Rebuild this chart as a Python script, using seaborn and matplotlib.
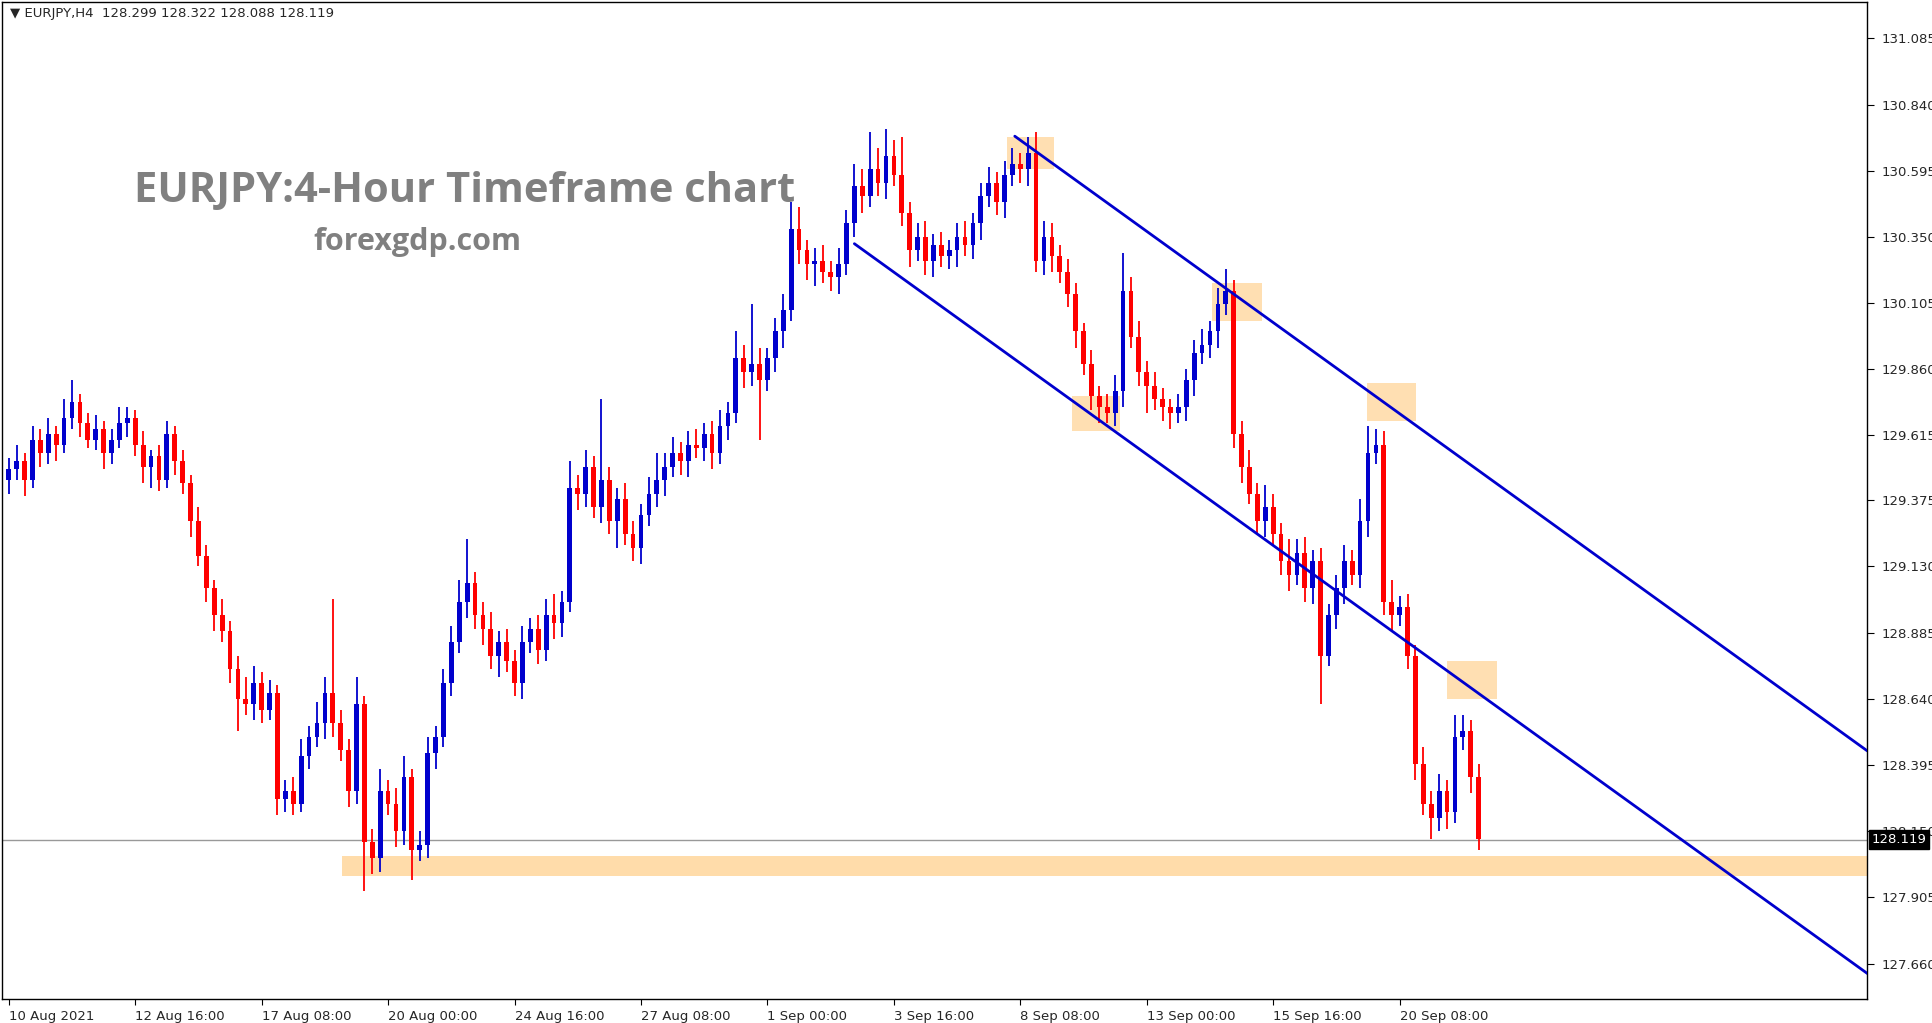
import numpy as np
import seaborn as sns
import matplotlib.pyplot as plt
from matplotlib.patches import Rectangle

# EURJPY H4 closes
closes = [
    129.49, 129.52, 129.45, 129.60, 129.55, 129.62, 129.58, 129.68, 129.74,
    129.66, 129.60, 129.64, 129.55, 129.60, 129.66, 129.68,
    129.58, 129.50, 129.54, 129.45, 129.62, 129.52, 129.44,
    129.30, 129.17, 129.05, 128.95, 128.89, 128.75, 128.64,
    128.62, 128.70, 128.60, 128.66, 128.27,
    128.30, 128.25, 128.43, 128.50, 128.55, 128.66,
    128.55, 128.45, 128.30, 128.62, 128.11,
    128.05, 128.30, 128.25, 128.15, 128.35, 128.08,
    128.10, 128.44, 128.50, 128.70, 128.85, 129.00, 129.07,
    128.95, 128.90, 128.80, 128.85, 128.78, 128.70,
    128.85, 128.90, 128.82, 128.95, 128.92, 129.00,
    129.42, 129.40, 129.50, 129.35, 129.45, 129.30, 129.38,
    129.25, 129.20, 129.32, 129.40, 129.45, 129.50, 129.55,
    129.52, 129.58, 129.57, 129.62, 129.55, 129.65, 129.70,
    129.90, 129.85, 129.88, 129.82, 129.90, 130.00, 130.08, 130.38,
    130.30, 130.25, 130.26, 130.22, 130.20, 130.25, 130.40, 130.54,
    130.50, 130.60, 130.55, 130.65, 130.58, 130.44,
    130.30, 130.35, 130.26, 130.32, 130.28, 130.30, 130.35, 130.32,
    130.40, 130.50, 130.55, 130.48, 130.58, 130.62, 130.60, 130.66,
    130.26, 130.35, 130.28, 130.22, 130.14, 130.00, 129.88, 129.76,
    129.72, 129.70, 129.78, 130.15, 129.98, 129.85, 129.80, 129.75,
    129.72, 129.70, 129.72, 129.82, 129.92, 129.95, 130.00, 130.10,
    130.15, 129.62, 129.50, 129.40, 129.30, 129.35,
    129.25, 129.15, 129.10, 129.18, 129.05, 129.15, 128.80,
    128.95, 129.05, 129.15, 129.10, 129.30, 129.55, 129.58,
    129.00, 128.95, 128.98, 128.80, 128.40, 128.25, 128.20,
    128.30, 128.22, 128.50, 128.52, 128.35, 128.12,
]
first_open = 129.45

# wick lengths in hundredths of a yen
upper_wick = [
    4, 6, 3, 5, 4, 6, 3, 7, 8, 3, 4, 5, 3, 4, 6, 4, 3, 5, 2, 4,
    5, 3, 4, 3, 5, 4, 3, 6, 4, 5, 8, 6, 4, 5, 3, 4, 5, 6, 4, 8,
    6, 35, 5, 4, 10, 3, 5, 8, 4, 6, 8, 3, 5, 6, 4, 5, 6, 8, 16, 4,
    5, 6, 4, 5, 4, 6, 4, 5, 6, 8, 4, 10, 5, 6, 4, 30, 5, 4, 6, 5,
    4, 6, 10, 5, 6, 4, 5, 6, 4, 5, 6, 4, 10, 5, 22, 6, 4, 5, 6, 10,
    8, 4, 5, 6, 4, 6, 5, 8, 6, 14, 8, 10, 6, 14, 4, 5, 6, 4, 5, 4,
    5, 6, 4, 5, 6, 4, 5, 6, 4, 6, 8, 6, 5, 4, 5, 4, 3, 5, 4, 5,
    6, 14, 5, 6, 4, 5, 4, 3, 5, 4, 5, 6, 4, 6, 8, 4, 5, 6, 4, 8,
    5, 4, 8, 5, 6, 4, 5, 4, 5, 6, 4, 8, 10, 6, 5, 8, 4, 5, 4, 6,
    5, 6, 4, 8, 6, 4, 5,
]
lower_wick = [
    5, 4, 6, 3, 5, 4, 6, 3, 4, 5, 3, 4, 6, 4, 3, 5, 4, 6, 8, 4,
    3, 5, 4, 6, 4, 5, 6, 4, 5, 12, 4, 6, 5, 4, 6, 5, 4, 3, 5, 4,
    6, 5, 4, 6, 5, 18, 6, 5, 4, 6, 5, 11, 4, 5, 6, 4, 5, 4, 6, 5,
    6, 5, 8, 4, 5, 6, 4, 5, 4, 6, 5, 4, 6, 5, 4, 6, 5, 10, 4, 5,
    6, 4, 5, 6, 4, 5, 6, 4, 5, 6, 4, 5, 4, 6, 5, 22, 4, 5, 6, 4,
    5, 6, 8, 4, 5, 6, 4, 5, 6, 4, 5, 6, 4, 5, 6, 4, 5, 6, 4, 5,
    6, 4, 5, 6, 4, 5, 6, 4, 5, 6, 4, 5, 6, 4, 5, 6, 4, 5, 6, 4,
    5, 6, 4, 5, 10, 4, 5, 6, 4, 5, 6, 4, 5, 6, 4, 5, 6, 4, 5, 6,
    4, 5, 6, 4, 5, 6, 18, 4, 5, 6, 4, 5, 6, 4, 5, 6, 4, 5, 6, 4,
    8, 5, 6, 4, 5, 6, 4,
]

tick_labels = ['10 Aug 2021', '12 Aug 16:00', '17 Aug 08:00', '20 Aug 00:00',
               '24 Aug 16:00', '27 Aug 08:00', '1 Sep 00:00', '3 Sep 16:00',
               '8 Sep 08:00', '13 Sep 00:00', '15 Sep 16:00', '20 Sep 08:00']
price_ticks = [131.085, 130.840, 130.595, 130.350, 130.105, 129.860, 129.615,
               129.375, 129.130, 128.885, 128.640, 128.395, 128.150, 127.905, 127.660]

# channel lines (x in bar index, y in price)
upper_line_x = [127.3, 235.2]
upper_line_y = [130.723, 128.447]
lower_line_x = [107.0, 235.2]
lower_line_y = [130.325, 127.623]
# highlight boxes: x0, x1, y_bottom, y_top
boxes = [(126.3, 132.3, 130.60, 130.72),
         (134.5, 140.6, 129.63, 129.76),
         (152.3, 158.6, 130.04, 130.18),
         (171.9, 178.1, 129.67, 129.81),
         (182.0, 188.3, 128.64, 128.78)]
zone_x = [42.2, 235.2]
zone_y = [127.985, 128.058]
last_price = 128.119

sns.set_style('white')
plt.rcParams['font.family'] = ['DejaVu Sans']

fig = plt.figure(figsize=(19.33, 10.23), dpi=100)
ax = fig.add_axes([2 / 1563, 1 - 808 / 827, 1508 / 1563, 806 / 827])

n = len(closes)
opens = [first_open] + closes[:-1]
bull = '#0000cd'
bear = '#ff0000'

# zone and boxes under the candles
ax.add_patch(Rectangle((zone_x[0], zone_y[0]), zone_x[1] - zone_x[0], zone_y[1] - zone_y[0],
                       color='#ffdcaa', lw=0, zorder=1))
for x0, x1, y0, y1 in boxes:
    ax.add_patch(Rectangle((x0, y0), x1 - x0, y1 - y0, color='#ffdcaa', alpha=0.9, lw=0, zorder=1))

for i in range(n):
    o, c = opens[i], closes[i]
    hi = max(o, c) + upper_wick[i] / 100
    lo = min(o, c) - lower_wick[i] / 100
    col = bull if c >= o else bear
    ax.vlines(i, lo, hi, color=col, lw=1.3, zorder=3)
    ax.add_patch(Rectangle((i - 0.3, min(o, c)), 0.6, max(abs(c - o), 0.004),
                           color=col, lw=0, zorder=3))

ax.plot(upper_line_x, upper_line_y, color='#0000cd', lw=2, zorder=4)
ax.plot(lower_line_x, lower_line_y, color='#0000cd', lw=2, zorder=4)
ax.axhline(last_price, color='#999999', lw=1, zorder=2)

ax.set_xlim(-0.8, 235.2)
ax.set_ylim(127.527, 131.218)
ax.yaxis.tick_right()
ax.set_yticks(price_ticks)
ax.set_yticklabels([f'{p:.3f}' for p in price_ticks], fontsize=9.5)
ax.tick_params(axis='y', length=5, direction='out', right=True, color='black', pad=5)
ax.set_xticks(np.arange(0, 16 * len(tick_labels), 16))
ax.set_xticklabels(tick_labels, fontsize=9.5, ha='left')
ax.tick_params(axis='x', length=4, direction='out', bottom=True, color='black')
for s in ax.spines.values():
    s.set_color('black')
    s.set_linewidth(1)

ax.text(1.002, last_price, f'{last_price:.3f}', transform=ax.get_yaxis_transform(),
        fontsize=9.5, color='white', va='center', ha='left',
        bbox=dict(boxstyle='square,pad=0.2', fc='black', ec='black'))

ax.text(0.004, 0.995, '\u25BC EURJPY,H4  128.299 128.322 128.088 128.119', transform=ax.transAxes,
        fontsize=9.5, va='top', ha='left')
fig.text(108 / 1563, 1 - 155 / 827, 'EURJPY:4-Hour Timeframe chart', fontsize=30,
         fontweight='bold', color='#808080', family=['Open Sans', 'DejaVu Sans'], va='center')
fig.text(253 / 1563, 1 - 196 / 827, 'forexgdp.com', fontsize=22,
         fontweight='bold', color='#808080', family=['Open Sans', 'DejaVu Sans'], va='center')

fig.savefig('out.png', dpi=100)
